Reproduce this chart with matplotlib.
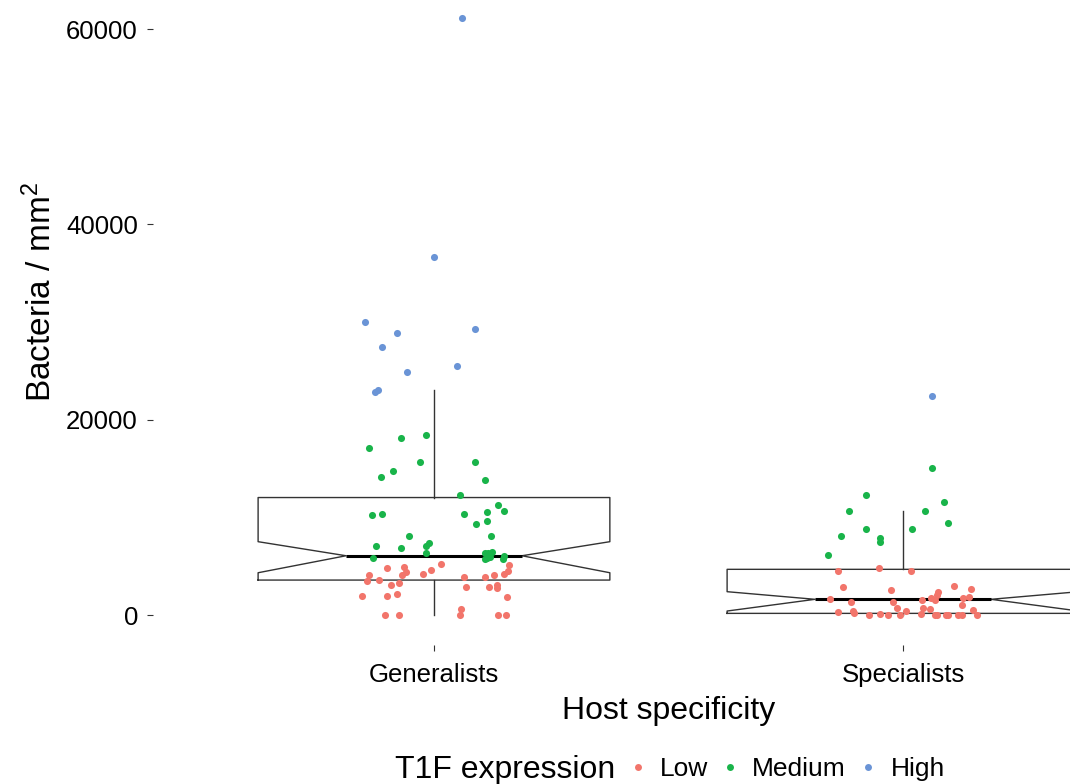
import numpy as np
import matplotlib
matplotlib.use("Agg")
from matplotlib import pyplot as plt
from matplotlib.lines import Line2D

plt.rcParams['font.family'] = ['Liberation Sans', 'DejaVu Sans']
plt.rcParams['mathtext.fontset'] = 'custom'
plt.rcParams['mathtext.rm'] = 'Liberation Sans'
plt.rcParams['mathtext.default'] = 'regular'

# categories and levels
hosts = ["Generalists", "Specialists"]
levels = ["Low", "Medium", "High"]
colors = {"Low": "#F2756B", "Medium": "#19B44A", "High": "#6A94D6"}

# box statistics
box_q1 = [3580, 170]
box_med = [6070, 1610]
box_q3 = [12030, 4680]
box_lo = [0, 0]
box_hi = [23040, 10680]
notch_lo = [4330, 410]
notch_hi = [7510, 2390]

# jittered points: offset from the category centre, and bacteria / mm2
gen_high_dx = [-0.147, -0.079, -0.110, 0.087, 0.049, -0.057, -0.126, -0.119, 0.0, 0.060]
gen_high_y = [30030, 28840, 27470, 29280, 25530, 24910, 22800, 23000, 36660, 61130]

gen_med_dx = [-0.016, -0.070, -0.138, -0.029, 0.087, -0.088, -0.113, 0.109, 0.055, 0.136,
              0.149, -0.132, -0.110, 0.065, 0.114, 0.112, 0.090, 0.122, -0.053, -0.123,
              -0.070, -0.018, -0.010, -0.017, -0.129, 0.109, 0.116, 0.124, 0.112, 0.119,
              0.109, 0.149, 0.147]
gen_med_y = [18460, 18150, 17130, 15640, 15640, 14710, 14100, 13820, 12320, 11260,
             10680, 10210, 10370, 10340, 10520, 9620, 9290, 8090, 8090, 7070,
             6890, 7100, 7400, 6380, 5870, 6320, 6380, 6480, 5800, 5970,
             5700, 6040, 5700]

gen_low_dx = [-0.101, -0.063, 0.015, -0.007, -0.023, -0.060, -0.068, -0.138, -0.143, -0.117,
              -0.091, -0.075, -0.154, -0.101, -0.079, -0.104, -0.075, 0.159, 0.158, 0.149,
              0.065, 0.108, 0.128, 0.068, 0.118, 0.134, 0.134, 0.155, 0.058, 0.055,
              0.136, 0.153]
gen_low_y = [4810, 4950, 5250, 4640, 4200, 4370, 4060, 4100, 3480, 3580,
             3040, 3310, 1980, 1980, 2120, 0, 0, 5120, 4470, 4200,
             3890, 3920, 4060, 2900, 2900, 3070, 2730, 1810, 610, 0,
             0, 0]

spe_high_dx = [0.062]
spe_high_y = [22390]

spe_med_dx = [0.062, -0.078, -0.116, 0.046, 0.087, 0.096, -0.078, 0.019, -0.132, -0.048,
              -0.048, -0.160]
spe_med_y = [15020, 12290, 10650, 10650, 11540, 9450, 8840, 8840, 8090, 7850,
             7440, 6140]

spe_low_dx = [-0.138, -0.051, 0.018, -0.128, -0.026, 0.109, 0.146, 0.075, 0.073, 0.069,
              0.059, -0.156, -0.110, -0.022, 0.041, 0.128, 0.140, 0.125, -0.012, 0.006,
              -0.138, -0.107, -0.104, 0.042, 0.058, 0.149, -0.072, -0.049, -0.031, -0.006,
              0.039, 0.069, 0.073, 0.092, 0.097, 0.117, 0.125, 0.158]
spe_low_y = [4470, 4780, 4470, 2830, 2560, 3000, 2660, 2350, 2050, 1540,
             1710, 1640, 1330, 1330, 1540, 1710, 1810, 1020, 750, 440,
             280, 440, 200, 680, 580, 510, 0, 80, 0, 0,
             60, 0, 0, 0, 0, 0, 0, 0]

points = {
    ("Generalists", "Low"): (gen_low_dx, gen_low_y),
    ("Generalists", "Medium"): (gen_med_dx, gen_med_y),
    ("Generalists", "High"): (gen_high_dx, gen_high_y),
    ("Specialists", "Low"): (spe_low_dx, spe_low_y),
    ("Specialists", "Medium"): (spe_med_dx, spe_med_y),
    ("Specialists", "High"): (spe_high_dx, spe_high_y),
}

fig = plt.figure(figsize=(10.7, 7.84), dpi=100)
# panel runs past the right and top edges, as in the reference crop
ax = fig.add_axes([0.1426, 0.1769, 0.9643, 0.8384])

stats = []
for i in range(len(hosts)):
    stats.append(dict(med=box_med[i], q1=box_q1[i], q3=box_q3[i],
                      whislo=box_lo[i], whishi=box_hi[i],
                      cilo=notch_lo[i], cihi=notch_hi[i], fliers=[]))
ax.bxp(stats, positions=[1, 2], widths=0.75, shownotches=True, showcaps=False,
       showfliers=False,
       boxprops=dict(color="#333333", linewidth=1.0),
       whiskerprops=dict(color="#333333", linewidth=1.0),
       medianprops=dict(color="black", linewidth=2.2),
       zorder=2)

for (host, lev), (dx, vals) in points.items():
    xpos = hosts.index(host) + 1 + np.array(dx)
    ax.scatter(xpos, vals, s=26, color=colors[lev], linewidths=0, zorder=3)

ax.set_xlim(0.4, 2.6)
ax.set_ylim(-3100, 64200)
ax.set_xticks([1, 2])
ax.set_xticklabels(hosts)
ax.set_yticks([0, 20000, 40000, 60000])
for s in ax.spines.values():
    s.set_visible(False)
ax.tick_params(axis="both", length=4.5, width=0.8, color="#333333",
               labelsize=18.5, labelcolor="black")
ax.tick_params(axis="y", pad=6)
ax.tick_params(axis="x", pad=8)

ax.set_xlabel("Host specificity", fontsize=23, labelpad=7)
ax.set_ylabel(r"Bacteria / mm$^{2}$", fontsize=24)
ax.yaxis.set_label_coords(-0.092, 0.5375)

fig.text(395 / 1070, 14 / 784, "T1F expression", fontsize=23, va="center", ha="left")
handles = [Line2D([], [], marker="o", linestyle="", markersize=5,
                  markerfacecolor=colors[l], markeredgewidth=0) for l in levels]
fig.legend(handles, levels, loc="center left", bbox_to_anchor=(627 / 1070, 15 / 784),
           ncol=3, frameon=False, fontsize=19, handletextpad=0.44,
           columnspacing=0.44, handlelength=0.8, borderpad=0, borderaxespad=0)

plt.savefig("out.png", dpi=100)
